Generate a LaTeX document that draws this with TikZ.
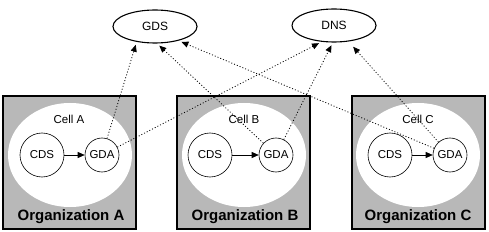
\documentclass[tikz,border=0pt]{standalone}
\usepackage{fontspec}
\setmainfont{Liberation Sans}
\usetikzlibrary{shapes.geometric,arrows.meta}
\tikzset{
  srv/.style={draw, line width=1.1pt, ellipse, minimum width=84pt, minimum height=33pt, inner sep=0pt, font=\fontsize{12}{13}\selectfont},
  org/.style={draw, line width=2pt, fill=black!28, minimum width=133pt, minimum height=133pt, inner sep=0pt},
  cell/.style={fill=white, ellipse, minimum width=124pt, minimum height=104pt, inner sep=0pt},
  cds/.style={draw, line width=0.6pt, circle, minimum size=44pt, inner sep=0pt, font=\fontsize{11.5}{12}\selectfont},
  gda/.style={draw, line width=0.6pt, circle, minimum size=34pt, inner sep=0pt, font=\fontsize{11.5}{12}\selectfont},
  lbl/.style={font=\fontsize{11.5}{12}\selectfont, inner sep=0pt},
  orglbl/.style={font=\bfseries\fontsize{15}{16}\selectfont, inner sep=0pt},
  link/.style={line width=0.8pt, dash pattern=on 1pt off 2pt, -{Triangle[length=7pt,width=6pt]}, shorten >=3pt},
  feed/.style={line width=0.7pt, -{Triangle[length=7pt,width=6pt]}}
}
\begin{document}
\begin{tikzpicture}[x=1pt,y=-1pt]
\useasboundingbox (0,0) rectangle (489,232);
% directory services
\node[srv] (gds) at (155,26.5) {GDS};
\node[srv] (dns) at (334,25.5) {DNS};
% organizations
\node[org] (orgA) at (69.5,162.5) {};
\node[org] (orgB) at (243.5,162.5) {};
\node[org] (orgC) at (418,162.5) {};
\node[cell] (cellA) at (70,155) {};
\node[cell] (cellB) at (244,155) {};
\node[cell] (cellC) at (418,155) {};
\node[lbl] (labA) at (69,119) {Cell A};
\node[lbl] (labB) at (244,119) {Cell B};
\node[lbl] (labC) at (418,119) {Cell C};
\node[cds] (cdsA) at (42,155) {CDS};
\node[cds] (cdsB) at (210,155) {CDS};
\node[cds] (cdsC) at (390,155) {CDS};
\node[gda] (gdaA) at (102,155) {GDA};
\node[gda] (gdaB) at (276,155) {GDA};
\node[gda] (gdaC) at (450,155) {GDA};
\node[orglbl] (olA) at (71,217) {Organization A};
\node[orglbl] (olB) at (245,217) {Organization B};
\node[orglbl] (olC) at (418,217) {Organization C};
% cell links
\draw[feed] (cdsA) -- (gdaA);
\draw[feed] (cdsB) -- (gdaB);
\draw[feed] (cdsC) -- (gdaC);
% links to GDS
\draw[link] (gdaA) -- (gds.220);
\draw[link] (gdaB) -- (gds.277);
\draw[link] (gdaC) -- (gds.329);
% links to DNS
\draw[link] (gdaA) -- (dns.233);
\draw[link] (gdaB) -- (dns.266);
\draw[link, shorten >=7pt] (gdaC) -- (dns.312);
\end{tikzpicture}
\end{document}
